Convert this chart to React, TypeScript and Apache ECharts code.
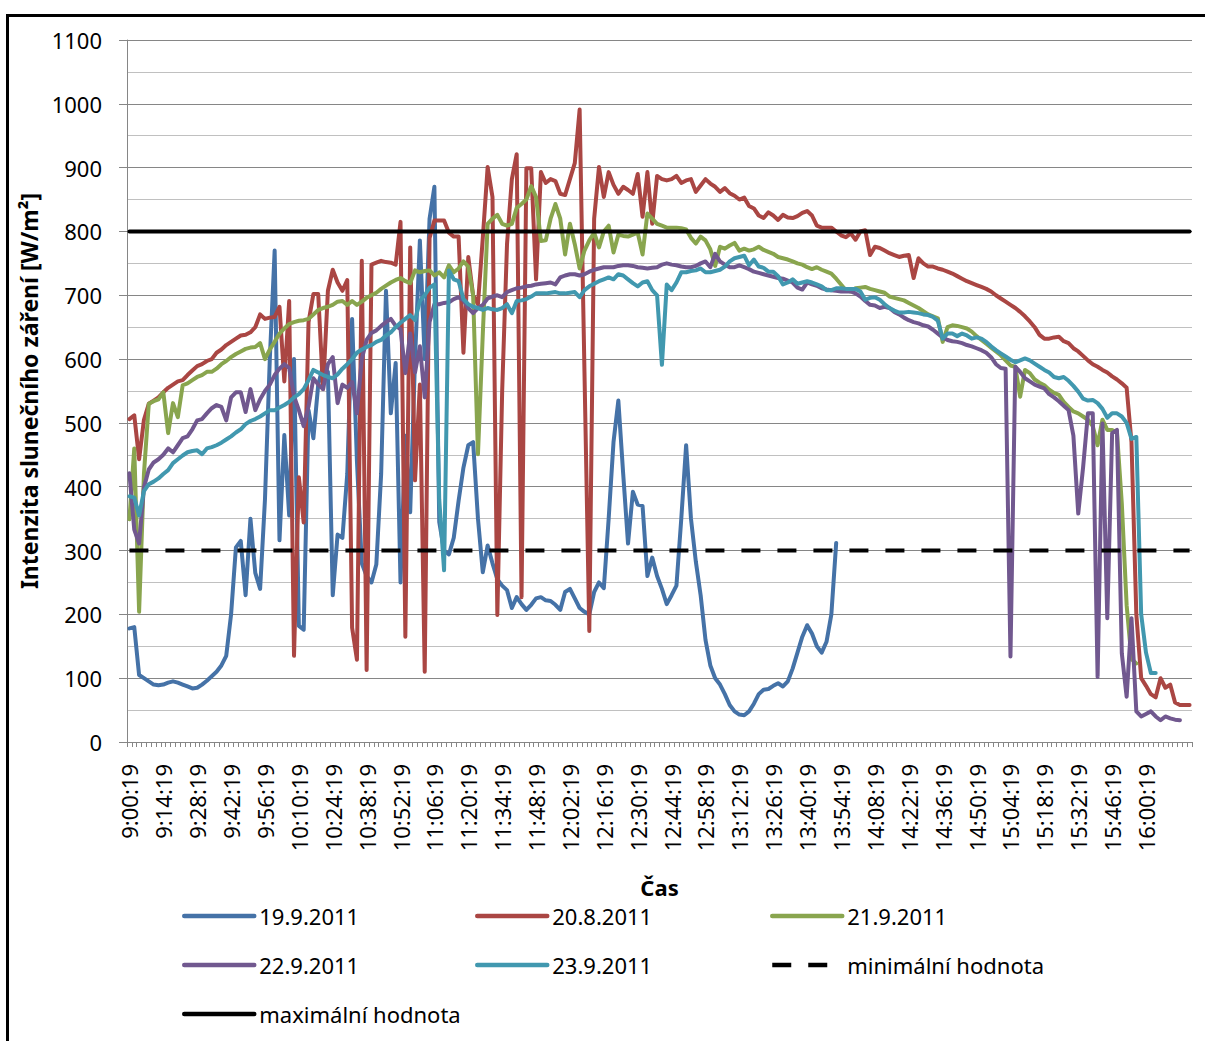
import React, { useEffect, useRef } from "react";
import * as echarts from "echarts";

// ---- categories: one reading every 2 minutes from 9:00:19 ----
const CATEGORY_COUNT = 220;
const categories: string[] = Array.from({ length: CATEGORY_COUNT }, (_, k) => {
  const m = 9 * 60 + 2 * k;
  return `${Math.floor(m / 60)}:${String(m % 60).padStart(2, "0")}:19`;
});
const LABEL_STEP = 7;
const LAST_LABEL_INDEX = 210; // 16:00:19

// ---- series values (W/m2) ----
const s19_9 = [
  178, 180, 105, 100, 95, 90, 89, 90, 93, 95,
  93, 90, 87, 84, 85, 90, 96, 103, 110, 120,
  135, 200, 305, 315, 230, 350, 265, 240, 380, 600,
  770, 316, 481, 355, 600, 182, 176, 520, 476, 560,
  590, 580, 230, 325, 320, 420, 663, 440, 280, 260,
  250, 278, 420, 707, 515, 594, 250, 480, 360, 600,
  786, 600, 820, 870, 345, 300, 294, 320, 378, 430,
  465, 470, 350, 266, 308, 280, 255, 245, 238, 210,
  227, 216, 207, 215, 225, 227, 222, 221, 215, 207,
  235, 240, 225, 210, 204, 200, 235, 250, 241, 350,
  470, 535, 420, 311, 392, 372, 370, 260, 289, 260,
  240, 216, 230, 245, 350, 465, 350, 283, 230, 160,
  120, 100, 90, 75, 58, 48, 43, 42, 48, 60,
  75, 82, 83, 88, 92, 87, 95, 115, 140, 165,
  183, 170, 150, 140, 157, 200, 312,
];

const s20_8 = [
  506, 512, 443, 505, 530, 535, 540, 548, 555, 560,
  565, 567, 575, 582, 589, 592, 597, 600, 610, 615,
  622, 627, 632, 637, 638, 642, 650, 670, 663, 665,
  666, 682, 565, 691, 135, 415, 344, 658, 702, 702,
  553, 707, 740, 720, 707, 724, 179, 129, 754, 113,
  748, 751, 754, 752, 751, 748, 815, 165, 775, 410,
  560, 110, 790, 817, 817, 817, 798, 792, 792, 610,
  760, 700, 686, 790, 901, 854, 199, 550, 780, 882,
  921, 227, 899, 899, 725, 893, 876, 882, 879, 859,
  857, 882, 907, 991, 580, 174, 820, 901, 854, 893,
  873, 859, 870, 865, 859, 890, 823, 893, 812, 887,
  882, 880, 882, 887, 876, 880, 882, 862, 872, 882,
  875, 870, 862, 868, 860, 856, 850, 853, 840, 836,
  825, 821, 830, 825, 818, 826, 822, 821, 824, 829,
  832, 825, 809, 806, 806, 806, 800, 794, 791, 797,
  787, 800, 802, 763, 776, 774, 770, 766, 763, 760,
  762, 763, 727, 758, 750, 745, 745, 742, 740, 737,
  734, 730, 726, 722, 719, 716, 713, 710, 706, 700,
  695, 690, 685, 680, 674, 667, 659, 650, 638, 632,
  632, 634, 635, 628, 625, 617, 612, 605, 598, 592,
  588, 583, 579, 573, 568, 562, 555, 470, 200, 100,
  88, 75, 70, 100, 85, 90, 62, 58, 58, 58,
];

const s21_9 = [
  349, 460, 204, 420, 530, 534, 537, 548, 484, 531,
  509, 559, 562, 567, 572, 575, 580, 580, 585, 592,
  597, 603, 608, 612, 616, 618, 619, 625, 600, 615,
  627, 640, 648, 655, 658, 660, 661, 663, 670, 677,
  680, 682, 685, 690, 691, 685, 691, 685, 690, 696,
  700, 704, 710, 715, 720, 724, 727, 722, 719, 739,
  736, 738, 739, 731, 736, 728, 747, 736, 742, 753,
  745, 700, 451, 640, 812, 820, 826, 812, 809, 812,
  837, 843, 850, 871, 854, 785, 786, 820, 843, 820,
  764, 812, 780, 742, 770, 786, 798, 775, 800, 809,
  767, 795, 793, 792, 795, 798, 764, 828, 820, 812,
  809, 806, 806, 806, 805, 803, 790, 781, 792, 786,
  772, 746, 776, 773, 778, 782, 770, 773, 770, 772,
  776, 771, 768, 765, 760, 758, 756, 753, 750, 748,
  744, 741, 744, 740, 737, 734, 726, 717, 708, 706,
  711, 712, 713, 710, 708, 706, 704, 698, 696, 694,
  692, 688, 684, 680, 675, 670, 667, 664, 627, 650,
  653, 652, 650, 648, 643, 636, 630, 624, 618, 612,
  606, 598, 590, 588, 541, 583, 578, 568, 563, 559,
  552, 547, 544, 533, 525, 518, 515, 510, 505, 495,
  465, 505, 489, 489, 485, 374, 214, 130, 123,
];

const s22_9 = [
  421, 333, 311, 399, 427, 438, 443, 450, 460, 454,
  465, 476, 479, 490, 504, 506, 515, 523, 528, 525,
  504, 540, 548, 548, 517, 553, 520, 537, 550, 560,
  575, 585, 592, 586, 542, 520, 495, 526, 570, 560,
  553, 592, 603, 531, 560, 555, 564, 515, 600, 630,
  641, 645, 652, 658, 663, 652, 647, 578, 640, 579,
  620, 540, 658, 686, 686, 688, 689, 694, 697, 692,
  680, 672, 680, 685, 695, 698, 700, 697, 705, 708,
  711, 712, 714, 715, 717, 718, 719, 720, 717, 728,
  731, 733, 733, 731, 733, 737, 740, 742, 744, 744,
  744, 746, 747, 747, 746, 744, 743, 742, 743, 744,
  748, 750, 748, 747, 745, 744, 744, 746, 750, 753,
  744, 765, 753, 748, 744, 744, 747, 744, 741, 737,
  735, 733, 731, 729, 727, 726, 723, 720, 712, 709,
  720, 717, 715, 711, 709, 708, 707, 706, 706, 706,
  703, 698, 691, 685, 684, 680, 682, 680, 674, 670,
  665, 661, 658, 656, 653, 651, 646, 640, 634, 630,
  628, 627, 625, 622, 620, 617, 614, 610, 603, 592,
  586, 585, 134, 588, 580, 570, 565, 560, 557, 554,
  545, 540, 534, 527, 520, 480, 358, 430, 515, 515,
  102, 499, 194, 484, 489, 139, 71, 194, 48, 40,
  44, 48, 40, 34, 40, 37, 35, 34,
];

const s23_9 = [
  385, 383, 355, 393, 404, 408, 413, 420, 426, 437,
  443, 449, 454, 456, 457, 451, 460, 462, 465, 469,
  474, 479, 485, 490, 498, 503, 506, 510, 515, 520,
  520, 524, 528, 533, 540, 545, 553, 567, 583, 579,
  575, 572, 570, 576, 585, 592, 600, 610, 615, 619,
  622, 627, 630, 637, 642, 650, 657, 663, 669, 661,
  691, 700, 712, 717, 380, 269, 739, 725, 722, 694,
  686, 682, 680, 677, 680, 678, 677, 680, 686, 672,
  691, 692, 694, 698, 703, 703, 703, 704, 705, 703,
  703, 704, 705, 697, 708, 714, 718, 722, 725, 728,
  725, 733, 731, 725, 719, 714, 720, 722, 708, 700,
  591, 717, 708, 720, 736, 736, 738, 739, 742, 736,
  736, 738, 740, 745, 753, 758, 760, 762, 747, 756,
  745, 743, 737, 737, 730, 717, 720, 725, 718, 720,
  722, 720, 717, 714, 708, 708, 711, 711, 710, 710,
  710, 706, 693, 696, 697, 693, 686, 680, 676, 673,
  673, 674, 673, 672, 670, 669, 666, 660, 632, 640,
  640, 636, 640, 637, 632, 634, 632, 627, 620, 614,
  609, 604, 599, 595, 598, 601, 598, 593, 588, 583,
  579, 572, 570, 572, 566, 558, 549, 538, 535, 536,
  531, 522, 508, 515, 515, 510, 500, 475, 478, 200,
  140, 108, 108,
];

// reference limits
const MIN_LIMIT = 300;
const MAX_LIMIT = 800;
const minLine = categories.map(() => MIN_LIMIT);
const maxLine = categories.map(() => MAX_LIMIT);

const SERIES_NAMES = [
  "19.9.2011",
  "20.8.2011",
  "21.9.2011",
  "22.9.2011",
  "23.9.2011",
  "minimální hodnota",
  "maximální hodnota",
];

const FONT = "'Noto Sans', 'DejaVu Sans', sans-serif";
const COLORS = ["#4572A7", "#AA4643", "#89A54E", "#71588F", "#4198AF", "#000000", "#000000"];

export default function App() {
  const ref = useRef<HTMLDivElement>(null);

  useEffect(() => {
    if (!ref.current) return;
    const chart = echarts.init(ref.current, null, { renderer: "svg" });

    const dataSets = [s19_9, s20_8, s21_9, s22_9, s23_9, minLine, maxLine];
    const series = dataSets.map((d, k) => ({
      name: SERIES_NAMES[k],
      type: "line",
      data: d,
      symbol: "none",
      showSymbol: false,
      z: 2 + k,
      lineStyle: {
        color: COLORS[k],
        width: 4,
        type: k === 5 ? [19, 17] : "solid",
        cap: k === 5 ? "butt" : "round",
        join: "round",
      },
      itemStyle: { color: COLORS[k] },
      emphasis: { disabled: true },
    }));

    const legendPos: [number, number][] = [
      [182, 916],
      [475, 916],
      [770, 916],
      [182, 965],
      [475, 965],
      [770, 965],
      [182, 1014],
    ];
    const legends = SERIES_NAMES.map((n, k) => ({
      data: [n],
      left: legendPos[k][0],
      top: legendPos[k][1] - 12,
      orient: "horizontal",
      padding: 0,
      itemWidth: 70,
      itemHeight: 14,
      selectedMode: false,
      itemStyle: { opacity: 0 },
      lineStyle: { width: 4.5, cap: k === 5 ? "butt" : "round" },
      textStyle: { fontSize: 22, color: "#000", fontFamily: FONT, lineHeight: 24 },
    }));

    chart.setOption({
      animation: false,
      backgroundColor: "#ffffff",
      textStyle: { fontFamily: FONT },
      grid: { left: 127, right: 13, top: 40, bottom: 299, containLabel: false },
      graphic: [
        {
          type: "rect",
          z: -10,
          silent: true,
          shape: { x: 7.5, y: 15.5, width: 1300, height: 1100 },
          style: { fill: "none", stroke: "#000", lineWidth: 3 },
        },
      ],
      legend: legends,
      xAxis: {
        type: "category",
        data: categories,
        boundaryGap: true,
        name: "Čas",
        nameLocation: "middle",
        nameGap: 134,
        nameTextStyle: { fontSize: 22, fontWeight: "bold", color: "#000", fontFamily: FONT },
        axisLine: { show: true, lineStyle: { color: "#868686", width: 1 } },
        axisTick: { show: true, interval: 0, length: 5, lineStyle: { color: "#868686" } },
        axisLabel: {
          interval: (index: number) => index % LABEL_STEP === 0 && index <= LAST_LABEL_INDEX,
          rotate: 90,
          margin: 22,
          fontSize: 22,
          color: "#000",
          fontFamily: FONT,
        },
        splitLine: { show: false },
      },
      yAxis: {
        type: "value",
        min: 0,
        max: 1100,
        interval: 100,
        name: "Intenzita slunečního záření [W/m²]",
        nameLocation: "middle",
        nameRotate: 90,
        nameGap: 84,
        nameTextStyle: { fontSize: 23, fontWeight: "bold", color: "#000", fontFamily: FONT },
        axisLine: { show: true, lineStyle: { color: "#868686", width: 1 } },
        axisTick: { show: true, length: 8, lineStyle: { color: "#868686" } },
        axisLabel: {
          margin: 25,
          fontSize: 22,
          color: "#000",
          fontFamily: FONT,
          formatter: (v: number) => String(v),
        },
        splitLine: { show: true, lineStyle: { color: "#868686", width: 1 } },
        minorTick: { show: false, splitNumber: 2 },
        minorSplitLine: { show: true, lineStyle: { color: "#c0c0c0", width: 1 } },
      },
      series,
    });

    return () => chart.dispose();
  }, []);

  return (
    <div
      ref={ref}
      style={{ position: "fixed", left: 0, top: 0, width: 1205, height: 1041, background: "#fff" }}
    />
  );
}
